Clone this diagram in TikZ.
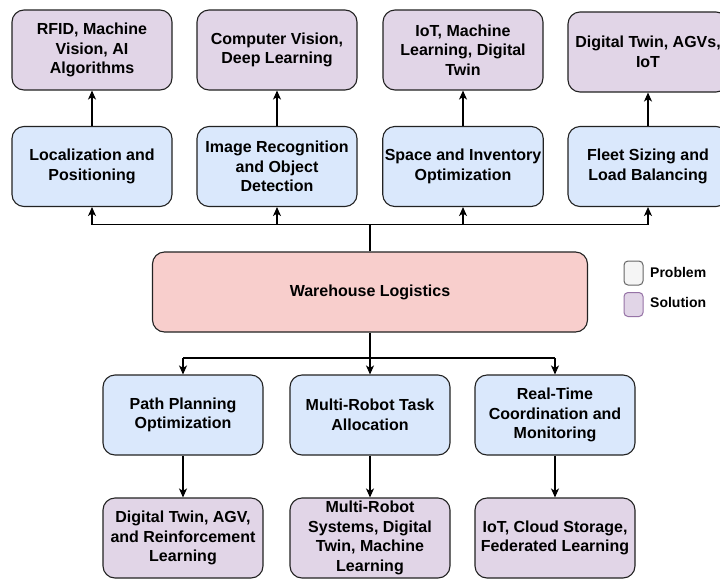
\documentclass[tikz,border=0pt]{standalone}
\usepackage{fontspec}
\setmainfont{Liberation Sans}
\usetikzlibrary{arrows.meta}
\definecolor{probfill}{HTML}{DAE8FC}
\definecolor{solfill}{HTML}{E1D5E7}
\definecolor{rootfill}{HTML}{F8CECC}
\definecolor{boxline}{HTML}{222222}
\definecolor{legprob}{HTML}{F5F5F5}
\definecolor{legprobline}{HTML}{666666}
\definecolor{legsolline}{HTML}{9673A6}
\tikzset{
  card/.style={draw=boxline, line width=1.1pt, rounded corners=12pt,
    minimum width=160pt, minimum height=80pt, align=center, inner sep=2pt,
    font=\fontsize{16}{19.5}\selectfont\bfseries},
  probbox/.style={card, fill=probfill},
  solbox/.style={card, fill=solfill},
  rootbox/.style={card, fill=rootfill, minimum width=435pt},
  link/.style={line width=1.3pt, -{Stealth[length=9pt,width=8pt,inset=2.5pt]}},
  wire/.style={line width=1.3pt},
  legkey/.style={line width=1pt, rounded corners=4pt, minimum width=19pt, minimum height=24pt, inner sep=0pt},
  legtext/.style={anchor=west, inner sep=0pt, font=\fontsize{14}{16}\selectfont\bfseries}
}
\begin{document}
\begin{tikzpicture}[x=1pt, y=-1pt]
\useasboundingbox (0,0) rectangle (720,579);
\fill[white] (0,0) rectangle (720,579);

% upper row: solutions
\node[solbox] (s1) at (92,50) {RFID, Machine\\Vision, AI\\Algorithms};
\node[solbox] (s2) at (277,50) {Computer Vision,\\Deep Learning};
\node[solbox] (s3) at (463,50) {IoT, Machine\\Learning, Digital\\Twin};
\node[solbox] (s4) at (648,52) {Digital Twin, AGVs,\\IoT};

% upper row: problems
\node[probbox] (p1) at (92,166.5) {Localization and\\Positioning};
\node[probbox] (p2) at (277,166.5) {Image Recognition\\and Object\\Detection};
\node[probbox] (p3) at (463,166.5) {Space and Inventory\\Optimization};
\node[probbox] (p4) at (648,166.5) {Fleet Sizing and\\Load Balancing};

% root
\node[rootbox] (root) at (370,292) {Warehouse Logistics};

% lower row: problems
\node[probbox] (q1) at (183,415) {Path Planning\\Optimization};
\node[probbox] (q2) at (370,415) {Multi-Robot Task\\Allocation};
\node[probbox] (q3) at (555,415) {Real-Time\\Coordination and\\Monitoring};

% lower row: solutions
\node[solbox] (t1) at (183,538) {Digital Twin, AGV,\\and Reinforcement\\Learning};
\node[solbox] (t2) at (370,538) {Multi-Robot\\Systems, Digital\\Twin, Machine\\Learning};
\node[solbox] (t3) at (555,538) {IoT, Cloud Storage,\\Federated Learning};

% upper bus
\coordinate (ub) at (370,224.5);
\draw[wire] (root.north -| ub) -- (ub);
\draw[wire] (p1.south |- ub) -- (p4.south |- ub);
\foreach \p in {p1,p2,p3,p4} \draw[link] (\p.south |- ub) -- (\p.south);
\foreach \p/\s in {p1/s1,p2/s2,p3/s3,p4/s4} \draw[link] (\p.north) -- (\s.south);

% lower bus
\coordinate (lb) at (370,358);
\draw[wire] (q1.north |- lb) -- (q3.north |- lb);
\draw[link] (root.south) -- (q2.north);
\draw[link] (q1.north |- lb) -- (q1.north);
\draw[link] (q3.north |- lb) -- (q3.north);
\foreach \p/\s in {q1/t1,q2/t2,q3/t3} \draw[link] (\p.south) -- (\s.north);

% legend
\node[legkey, draw=legprobline, fill=legprob] (kp) at (633.5,273) {};
\node[legkey, draw=legsolline, fill=solfill] (ks) at (633.5,304.5) {};
\node[legtext] (lp) at (650,272.5) {Problem};
\node[legtext] (ls) at (650,302) {Solution};
\end{tikzpicture}
\end{document}
